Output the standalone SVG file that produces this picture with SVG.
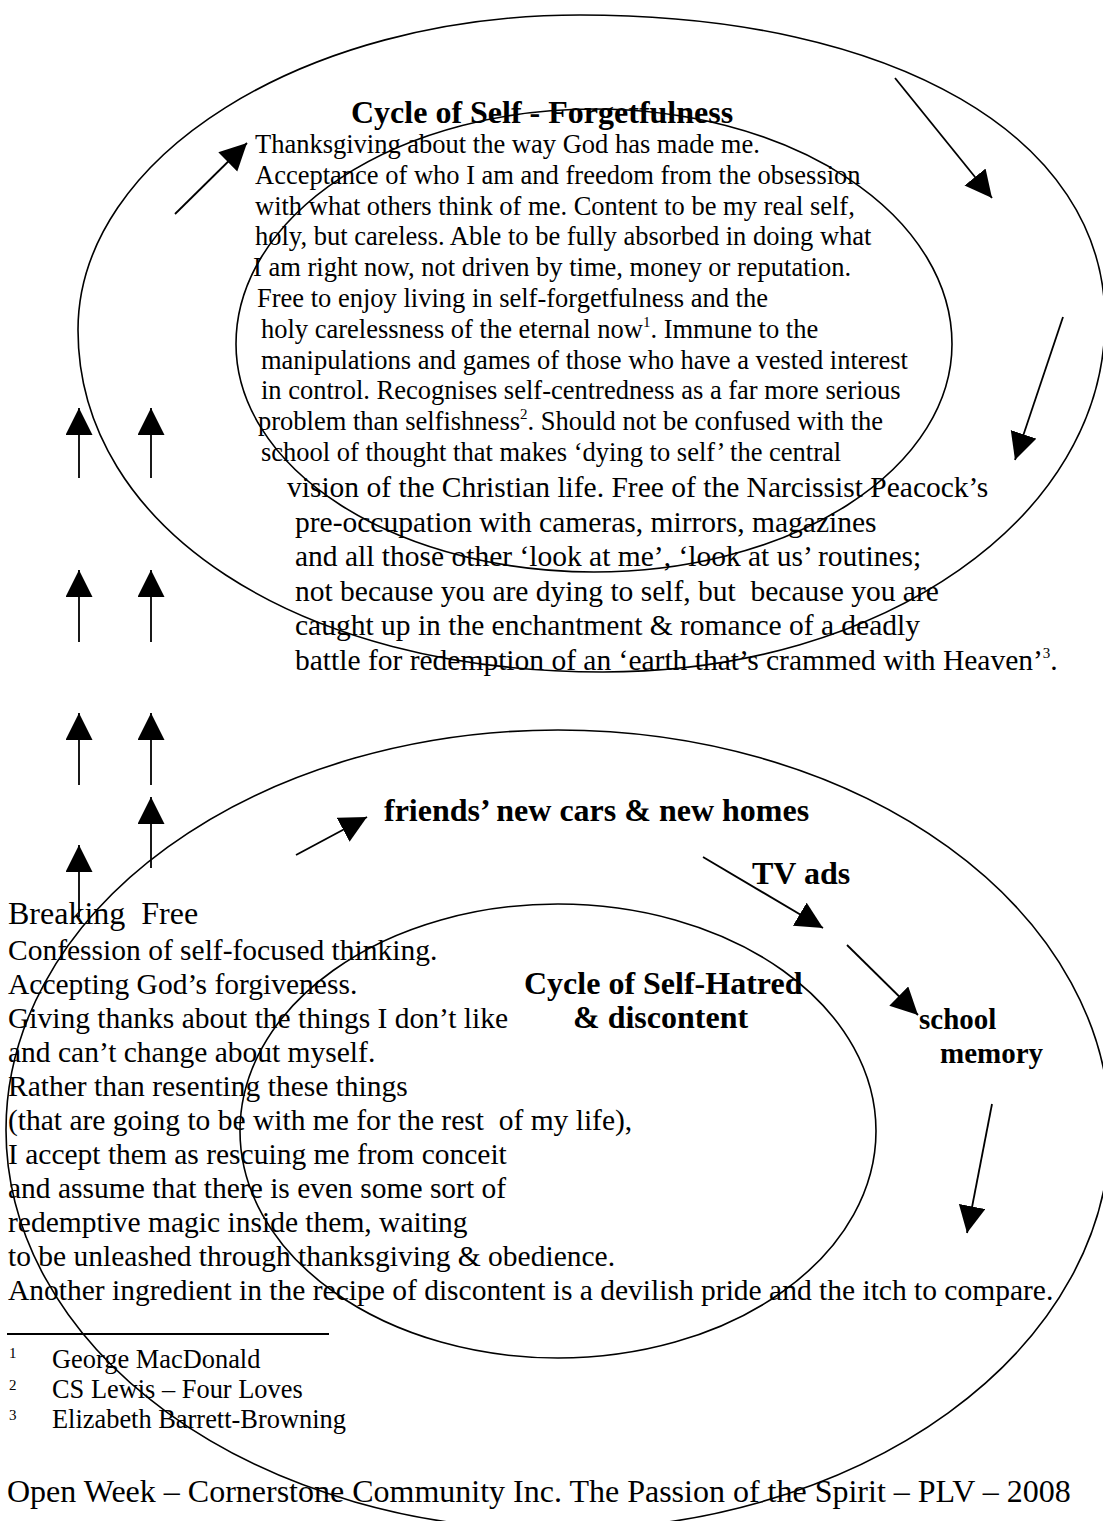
<svg xmlns="http://www.w3.org/2000/svg" width="1103" height="1521" viewBox="0 0 1103 1521">
<style>
text{font-family:"Liberation Serif","Times New Roman",serif;fill:#000;white-space:pre}
.t{font-size:26.5px}
.u{font-size:29.5px}
.b{font-size:32px;font-weight:bold}
.s{font-size:29px;font-weight:bold}
.fn{font-size:26.4px}
.sup{font-size:15px}
.ft{font-size:32px}
.shape{fill:none;stroke:#000;stroke-width:1.6}
.arr{stroke:#000;stroke-width:1.8;fill:none;marker-end:url(#ah)}
</style>
<defs>
<marker id="ah" markerUnits="userSpaceOnUse" markerWidth="28" markerHeight="28" refX="27" refY="13.5" orient="auto">
<path d="M0,0 L27,13.5 L0,27 Z" fill="#000"/>
</marker>
</defs>
<rect width="1103" height="1521" fill="#fff"/>

<g id="cycle-self-forgetfulness">
<path class="shape" d="M78,330 C78,157 304,15 580,15 C895,15 1105,137 1105,320 C1105,517 884,672 603,672 C298,672 78,528 78,330 Z"/>
<path class="shape" d="M236,344 A358,235 0 0 1 952,344 A358,228 0 0 1 236,344 Z"/>
<text class="b" x="351" y="123">Cycle of Self - Forgetfulness</text>
<text class="t" x="255" y="153">Thanksgiving about the way God has made me.</text>
<text class="t" x="255" y="184">Acceptance of who I am and freedom from the obsession</text>
<text class="t" x="255" y="214.6">with what others think of me. Content to be my real self,</text>
<text class="t" x="255" y="245.4">holy, but careless. Able to be fully absorbed in doing what</text>
<text class="t" x="253" y="276.2">I am right now, not driven by time, money or reputation.</text>
<text class="t" x="257" y="307">Free to enjoy living in self-forgetfulness and the</text>
<text class="t" x="261" y="337.8">holy carelessness of the eternal now<tspan class="sup" dy="-11">1</tspan><tspan dy="11">. Immune to the</tspan></text>
<text class="t" x="261" y="368.6">manipulations and games of those who have a vested interest</text>
<text class="t" x="261" y="399.4">in control. Recognises self-centredness as a far more serious</text>
<text class="t" x="258" y="430.2">problem than selfishness<tspan class="sup" dy="-11">2</tspan><tspan dy="11">. Should not be confused with the</tspan></text>
<text class="t" x="261" y="461">school of thought that makes ‘dying to self’ the central</text>
<text class="u" x="287" y="497">vision of the Christian life. Free of the Narcissist Peacock’s</text>
<text class="u" x="295" y="531.5">pre-occupation with cameras, mirrors, magazines</text>
<text class="u" x="295" y="566">and all those other ‘look at me’, ‘look at us’ routines;</text>
<text class="u" x="295" y="600.5">not because you are dying to self, but  because you are</text>
<text class="u" x="295" y="635">caught up in the enchantment &amp; romance of a deadly</text>
<text class="u" x="295" y="669.5">battle for redemption of an ‘earth that’s crammed with Heaven’<tspan class="sup" dy="-12">3</tspan><tspan dy="12">.</tspan></text>
</g>

<g id="cycle-self-hatred">
<ellipse class="shape" cx="558" cy="1130" rx="552" ry="400"/>
<ellipse class="shape" cx="558" cy="1131" rx="318" ry="227"/>
<text class="b" x="524" y="994">Cycle of Self-Hatred</text>
<text class="b" x="573" y="1028">&amp; discontent</text>
</g>

<g id="label-friends"><text class="b" x="384" y="821">friends’ new cars &amp; new homes</text></g>
<g id="label-tv"><text class="b" x="752" y="884">TV ads</text></g>
<g id="label-school"><text class="s" x="919" y="1029">school</text><text class="s" x="940" y="1063">memory</text></g>

<g id="breaking-free">
<text class="ft" x="8" y="924">Breaking  Free</text>
<text class="u" x="8" y="960">Confession of self-focused thinking.</text>
<text class="u" x="8" y="994">Accepting God’s forgiveness.</text>
<text class="u" x="8" y="1028">Giving thanks about the things I don’t like</text>
<text class="u" x="8" y="1062">and can’t change about myself.</text>
<text class="u" x="8" y="1096">Rather than resenting these things</text>
<text class="u" x="8" y="1130">(that are going to be with me for the rest  of my life),</text>
<text class="u" x="8" y="1164">I accept them as rescuing me from conceit</text>
<text class="u" x="8" y="1198">and assume that there is even some sort of</text>
<text class="u" x="8" y="1232">redemptive magic inside them, waiting</text>
<text class="u" x="8" y="1266">to be unleashed through thanksgiving &amp; obedience.</text>
<text class="u" x="8" y="1300">Another ingredient in the recipe of discontent is a devilish pride and the itch to compare.</text>
</g>

<g id="footnotes">
<line x1="7" y1="1334" x2="329" y2="1334" stroke="#000" stroke-width="1.8"/>
<text class="sup" x="9" y="1358">1</text>
<text class="fn" x="52" y="1368">George MacDonald</text>
<text class="sup" x="9" y="1390">2</text>
<text class="fn" x="52" y="1398">CS Lewis – Four Loves</text>
<text class="sup" x="9" y="1420">3</text>
<text class="fn" x="52" y="1428">Elizabeth Barrett-Browning</text>
<text class="ft" x="7" y="1502">Open Week – Cornerstone Community Inc. The Passion of the Spirit – PLV – 2008</text>
</g>

<g id="connectors">
<line class="arr" x1="175" y1="214" x2="247" y2="143"/>
<line class="arr" x1="895" y1="78" x2="992" y2="198"/>
<line class="arr" x1="1063" y1="317" x2="1015" y2="460"/>
<line class="arr" x1="79" y1="478" x2="79" y2="408"/>
<line class="arr" x1="151" y1="478" x2="151" y2="408"/>
<line class="arr" x1="79" y1="642" x2="79" y2="570"/>
<line class="arr" x1="151" y1="642" x2="151" y2="570"/>
<line class="arr" x1="79" y1="785" x2="79" y2="713"/>
<line class="arr" x1="151" y1="785" x2="151" y2="713"/>
<line class="arr" x1="151" y1="868" x2="151" y2="797"/>
<line class="arr" x1="79" y1="917" x2="79" y2="845"/>
<line class="arr" x1="296" y1="855" x2="367" y2="817"/>
<line class="arr" x1="703" y1="857" x2="823" y2="928"/>
<line class="arr" x1="847" y1="945" x2="918" y2="1015"/>
<line class="arr" x1="992" y1="1104" x2="967" y2="1233"/>
</g>
</svg>
